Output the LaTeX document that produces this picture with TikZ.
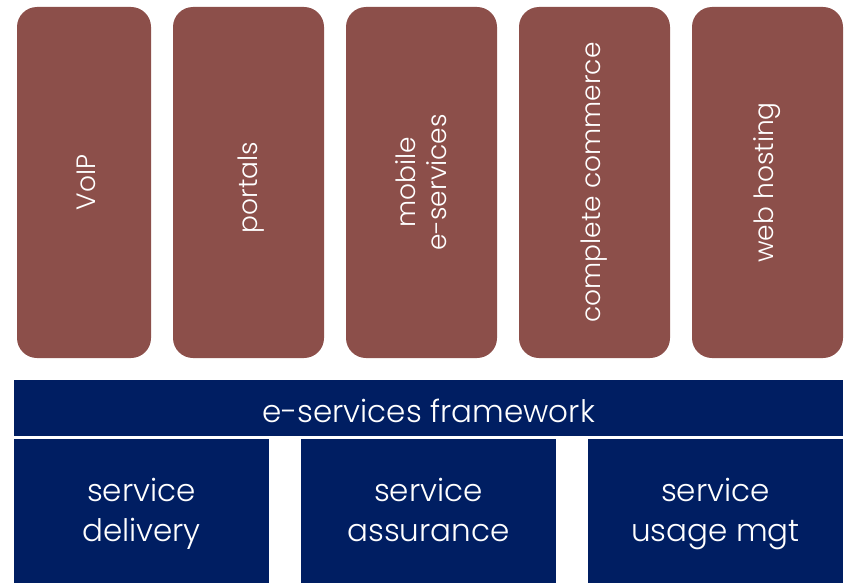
\documentclass[tikz,border=0pt]{standalone}
\usepackage{fontspec}
\setmainfont{Poppins Light}
\usetikzlibrary{positioning}

\definecolor{appbrown}{HTML}{8C4F4A}
\definecolor{fwnavy}{HTML}{001E62}

\begin{document}
\begin{tikzpicture}[
    x = 1pt, y = -1pt, % pixel-like units, y pointing down
    node distance = 22pt, % gap between the service columns
    inner sep = 0pt,
    outer sep = 0pt
    ]

    \tikzset{
    app/.style = {
        rectangle,
        rounded corners = 20pt,
        fill = appbrown,
        minimum width = 151pt,
        minimum height = 351pt
        },
    apptext/.style = {
        rotate = 90,
        text = white,
        align = center,
        font = \fontsize{26.5}{31}\selectfont
        },
    fw/.style = {
        rectangle,
        fill = fwnavy,
        text = white,
        align = center,
        text height = 40pt,
        text depth = 12pt,
        font = \fontsize{31}{40}\selectfont
        },
    fwpart/.style = {
        fw,
        text height = 72pt,
        minimum width = 255pt,
        minimum height = 144pt
        }
    }

    \useasboundingbox (0,0) rectangle (845,583);

    % the e-service columns
    \node[app, minimum width = 134pt, anchor = north west] (voip) at (17,7) {};
    \node[app] (portals) [right=of voip] {};
    \node[app] (mobile) [right=of portals] {};
    \node[app] (commerce) [right=of mobile] {};
    \node[app] (hosting) [right=of commerce] {};

    \node[apptext] (voip-txt) at ([xshift=2pt]voip.center) {VoIP};
    \node[apptext] (portals-txt) at ([shift={(3pt,-5pt)}]portals.center) {portals};
    \node[apptext] (mobile-txt) at (mobile.center) {mobile\\e-services};
    \node[apptext] (commerce-txt) at (commerce.center) {complete commerce};
    \node[apptext] (hosting-txt) at (hosting.center) {web hosting};

    % framework and its three parts
    \node[fw, minimum width = 829pt, minimum height = 56pt, anchor = north west] (framework) at (14,380) {e-services framework};
    \node[fwpart, anchor = north west] (delivery) at (14,439) {service\\delivery};
    \node[fwpart] (assurance) [right=32pt of delivery] {service\\assurance};
    \node[fwpart] (usage) [right=32pt of assurance] {service\\usage mgt};
\end{tikzpicture}
\end{document}
